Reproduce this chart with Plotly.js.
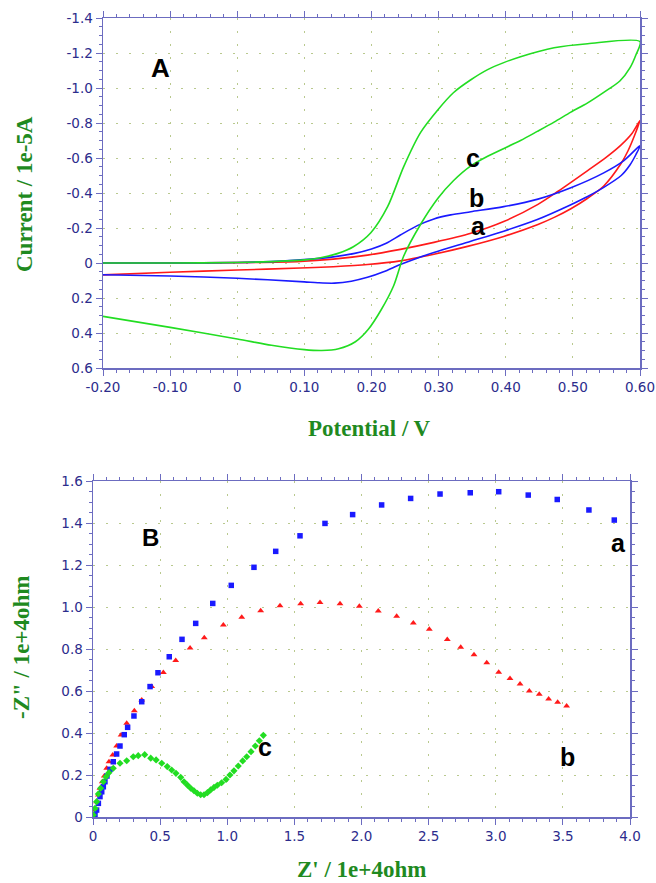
<!DOCTYPE html>
<html>
<head>
<meta charset="utf-8">
<script src="https://cdn.plot.ly/plotly-3.0.1.min.js"></script>
<style>html,body{margin:0;padding:0;background:#fff;}#chart{width:656px;height:883px;}</style>
</head>
<body>
<div id="chart"></div>
<script>
// ---------- Panel A: cyclic voltammograms (Potential / V, Current / 1e-5A) ----------
const cvA_E = [-0.2,-0.1,0.0,0.094,0.143,0.194,0.243,0.293,0.348,0.397,0.448,0.478,0.522,0.55,0.572,0.588,0.6,
               0.592,0.582,0.572,0.546,0.522,0.497,0.473,0.448,0.397,0.343,0.293,0.243,0.194,0.143,0.094,0.0,-0.1,-0.2];
const cvA_I = [0.0,0.0,-0.002,-0.009,-0.022,-0.045,-0.078,-0.118,-0.17,-0.237,-0.335,-0.41,-0.528,-0.605,-0.675,-0.74,-0.815,
               -0.73,-0.64,-0.57,-0.44,-0.37,-0.31,-0.262,-0.22,-0.152,-0.095,-0.05,-0.012,0.009,0.021,0.029,0.040,0.053,0.068];

const cvB_E = [-0.2,-0.1,0.0,0.05,0.094,0.143,0.175,0.2,0.222,0.243,0.269,0.293,0.318,0.348,0.397,0.448,0.497,0.546,0.576,0.6,
               0.594,0.585,0.572,0.546,0.522,0.497,0.448,0.397,0.348,0.293,0.269,0.243,0.218,0.194,0.17,0.145,0.12,0.1,0.0,-0.1,-0.2];
const cvB_I = [0.0,0.0,-0.003,-0.008,-0.018,-0.035,-0.055,-0.08,-0.113,-0.16,-0.215,-0.252,-0.275,-0.293,-0.322,-0.365,-0.43,-0.515,-0.585,-0.67,
               -0.62,-0.56,-0.5,-0.432,-0.38,-0.333,-0.25,-0.182,-0.124,-0.06,-0.029,0.008,0.05,0.082,0.104,0.115,0.113,0.108,0.087,0.074,0.067];

const cvC_E = [-0.2,-0.1,0.0,0.05,0.1,0.124,0.15,0.173,0.199,0.224,0.248,0.273,0.299,0.322,0.348,0.373,0.397,0.422,0.472,0.522,0.6,
               0.594,0.585,0.57,0.546,0.522,0.497,0.472,0.447,0.422,0.373,0.348,0.322,0.299,0.273,0.248,0.233,0.214,0.195,0.176,0.151,0.126,0.1,0.051,0.0,-0.1,-0.2];
const cvC_I = [0.0,0.0,-0.003,-0.008,-0.018,-0.03,-0.055,-0.093,-0.173,-0.322,-0.551,-0.745,-0.876,-0.973,-1.047,-1.105,-1.145,-1.179,-1.23,-1.253,-1.265,
               -1.19,-1.115,-1.04,-0.975,-0.915,-0.862,-0.805,-0.752,-0.70,-0.61,-0.555,-0.47,-0.37,-0.22,-0.04,0.13,0.27,0.38,0.45,0.49,0.50,0.495,0.47,0.434,0.368,0.305];

const cvTickVals = [-0.2,-0.1,0.0,0.1,0.2,0.3,0.4,0.5,0.6];
const cvTickText = ['-0.20','-0.10','0','0.10','0.20','0.30','0.40','0.50','0.60'];
const curTickVals = [-1.4,-1.2,-1.0,-0.8,-0.6,-0.4,-0.2,0.0,0.2,0.4,0.6];
const curTickText = ['-1.4','-1.2','-1.0','-0.8','-0.6','-0.4','-0.2','0','0.2','0.4','0.6'];

// ---------- Panel B: Nyquist plots (Z' / 1e+4ohm, -Z'' / 1e+4ohm) ----------
const nyqA_Zre = [0.015,0.027,0.040,0.052,0.065,0.077,0.089,0.104,0.127,0.151,0.176,0.201,0.233,0.258,0.305,0.363,0.425,0.484,0.568,0.663,0.765,0.892,1.030,1.199,1.361,1.542,1.728,1.934,2.150,2.366,2.585,2.810,3.022,3.242,3.458,3.694,3.883];
const nyqA_Zim = [0.01,0.033,0.065,0.097,0.12,0.144,0.168,0.195,0.227,0.263,0.30,0.338,0.392,0.427,0.481,0.549,0.621,0.687,0.763,0.846,0.922,1.017,1.103,1.189,1.265,1.339,1.398,1.44,1.486,1.517,1.538,1.544,1.549,1.533,1.512,1.462,1.414];

const nyqB_Zre = [0.002,0.015,0.027,0.040,0.052,0.069,0.084,0.102,0.119,0.147,0.176,0.209,0.251,0.308,0.363,0.437,0.524,0.616,0.723,0.829,0.971,1.108,1.249,1.393,1.547,1.691,1.840,1.984,2.125,2.262,2.386,2.505,2.639,2.739,2.838,2.933,3.022,3.106,3.181,3.250,3.324,3.394,3.461,3.528];
const nyqB_Zim = [0.01,0.033,0.073,0.105,0.137,0.168,0.195,0.232,0.263,0.295,0.338,0.39,0.446,0.506,0.557,0.621,0.688,0.745,0.805,0.854,0.914,0.951,0.982,1.006,1.016,1.021,1.016,1.003,0.981,0.956,0.924,0.894,0.845,0.808,0.773,0.735,0.689,0.659,0.633,0.600,0.584,0.562,0.546,0.529];

const nyqC_Zre = [0.002,0.015,0.027,0.040,0.057,0.077,0.097,0.119,0.151,0.201,0.251,0.300,0.337,0.385,0.43,0.47,0.512,0.553,0.586,0.618,0.653,0.678,0.703,0.728,0.752,0.777,0.802,0.827,0.852,0.876,0.901,0.926,0.958,0.991,1.020,1.05,1.082,1.115,1.145,1.177,1.209,1.239,1.269];
const nyqC_Zim = [0.01,0.041,0.073,0.11,0.137,0.168,0.192,0.211,0.232,0.256,0.268,0.287,0.292,0.297,0.28,0.272,0.256,0.24,0.224,0.208,0.189,0.168,0.152,0.137,0.125,0.113,0.106,0.106,0.116,0.129,0.141,0.151,0.163,0.179,0.20,0.22,0.243,0.267,0.287,0.311,0.338,0.363,0.389];

const zTickVals = [0,0.5,1.0,1.5,2.0,2.5,3.0,3.5,4.0];
const zTickText = ['0','0.5','1.0','1.5','2.0','2.5','3.0','3.5','4.0'];
const zimTickVals = [0,0.2,0.4,0.6,0.8,1.0,1.2,1.4,1.6];
const zimTickText = ['0','0.2','0.4','0.6','0.8','1.0','1.2','1.4','1.6'];

// ---------- styling ----------
const W = 656, H = 883;
const px = x => x / W;
const py = y => 1 - y / H;
const GREEN = '#22dd22', RED = '#ff1a1a', BLUE = '#1a1aff';
const AXC = '#6c6cc0', TICKC = '#2c2c8c', TITLEC = '#1f8a1f';
const tickFont = {family: 'DejaVu Sans, Verdana, sans-serif', size: 13.5, color: TICKC};

function axis(extra) {
  return Object.assign({
    showline: true, linecolor: AXC, linewidth: 1.5, mirror: 'ticks',
    ticks: 'outside', ticklen: 6, tickcolor: AXC, tickwidth: 1,
    tickfont: tickFont, tickmode: 'array',
    showgrid: true, gridcolor: '#b9c98e', gridwidth: 1, griddash: '2px,11px',
    zeroline: false, fixedrange: true
  }, extra);
}
function minor(t0, dt) {
  return {tickmode: 'linear', tick0: t0, dtick: dt, ticks: 'outside', ticklen: 3, tickcolor: AXC, tickwidth: 1, showgrid: false};
}

const lineStyle = c => ({color: c, width: 1.6, shape: 'spline', smoothing: 0.8});
const traces = [
  {x: cvA_E, y: cvA_I, xaxis: 'x', yaxis: 'y', mode: 'lines', line: lineStyle(RED)},
  {x: cvB_E, y: cvB_I, xaxis: 'x', yaxis: 'y', mode: 'lines', line: lineStyle(BLUE)},
  {x: cvC_E, y: cvC_I, xaxis: 'x', yaxis: 'y', mode: 'lines', line: lineStyle(GREEN)},
  {x: nyqB_Zre, y: nyqB_Zim, xaxis: 'x2', yaxis: 'y2', mode: 'markers', marker: {symbol: 'triangle-up', size: 6, color: RED}},
  {x: nyqA_Zre, y: nyqA_Zim, xaxis: 'x2', yaxis: 'y2', mode: 'markers', marker: {symbol: 'square', size: 5.5, color: BLUE}},
  {x: nyqC_Zre, y: nyqC_Zim, xaxis: 'x2', yaxis: 'y2', mode: 'markers', marker: {symbol: 'diamond', size: 5.5, color: GREEN}}
];

const letter = (x, y, t, xref, yref, size) => ({x, y, xref, yref, text: t, showarrow: false,
  font: {family: 'Liberation Sans, Arial, sans-serif', size: size, color: '#000', weight: 'bold'}, xanchor: 'center', yanchor: 'middle'});
const titleAnn = (x, y, t, angle) => ({x: px(x), y: py(y), xref: 'paper', yref: 'paper', text: '<b>' + t + '</b>', showarrow: false, textangle: angle,
  font: {family: 'Liberation Serif, Times New Roman, serif', size: 23, color: TITLEC}, xanchor: 'center', yanchor: 'middle'});

const layout = {
  width: W, height: H, margin: {l: 0, r: 0, t: 0, b: 0},
  paper_bgcolor: '#fff', plot_bgcolor: '#fff', showlegend: false,
  xaxis: axis({domain: [px(103), px(640)], anchor: 'y', range: [-0.2, 0.6], tickvals: cvTickVals, ticktext: cvTickText, minor: minor(-0.2, 0.02)}),
  yaxis: axis({domain: [py(368), py(18)], anchor: 'x', range: [0.6, -1.4], tickvals: curTickVals, ticktext: curTickText, minor: minor(-1.4, 0.05)}),
  xaxis2: axis({domain: [px(93), px(630)], anchor: 'y2', range: [0, 4], tickvals: zTickVals, ticktext: zTickText, minor: minor(0, 0.1)}),
  yaxis2: axis({domain: [py(817), py(481)], anchor: 'x2', range: [0, 1.6], tickvals: zimTickVals, ticktext: zimTickText, minor: minor(0, 0.05)}),
  annotations: [
    titleAnn(24, 194, 'Current / 1e-5A', -90),
    titleAnn(370, 428, 'Potential / V', 0),
    titleAnn(21, 648, '-Z" / 1e+4ohm', -90),
    titleAnn(361, 869, "Z' / 1e+4ohm", 0),
    letter(-0.115, -1.116, 'A', 'x', 'y', 26),
    letter(0.351, -0.602, 'c', 'x', 'y', 25),
    letter(0.357, -0.373, 'b', 'x', 'y', 25),
    letter(0.360, -0.213, 'a', 'x', 'y', 25),
    letter(0.425, 1.333, 'B', 'x2', 'y2', 24),
    letter(3.911, 1.305, 'a', 'x2', 'y2', 25),
    letter(3.538, 0.286, 'b', 'x2', 'y2', 25),
    letter(1.281, 0.333, 'c', 'x2', 'y2', 25)
  ]
};

Plotly.newPlot('chart', traces, layout, {displayModeBar: false, staticPlot: true});
</script>
</body>
</html>
